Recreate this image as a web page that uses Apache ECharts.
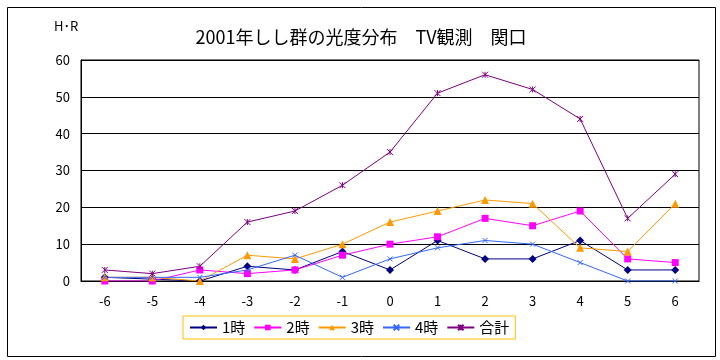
<!DOCTYPE html>
<html><head><meta charset="utf-8">
<script src="https://cdn.jsdelivr.net/npm/echarts@6/dist/echarts.min.js"></script>
<style>html,body{margin:0;padding:0;background:#fff}#c{width:720px;height:360px}</style>
</head><body><div id="c"></div>
<script>
const categories = ['-6','-5','-4','-3','-2','-1','0','1','2','3','4','5','6'];
const hour1 = [1, 0.5, 0, 4, 3, 8, 3, 11, 6, 6, 11, 3, 3];
const hour2 = [0, 0, 3, 2, 3, 7, 10, 12, 17, 15, 19, 6, 5];
const hour3 = [1, 1, 0, 7, 6, 10, 16, 19, 22, 21, 9, 8, 21];
const hour4 = [1, 1, 1, 3, 7, 1, 6, 9, 11, 10, 5, 0, 0];
const total = [3, 2, 4, 16, 19, 26, 35, 51, 56, 52, 44, 17, 29];
const seriesNames = ['1時','2時','3時','4時','合計'];
const yTicks = [0,10,20,30,40,50,60];

const FONT = '"Noto Sans CJK JP", "Noto Sans", sans-serif';
const xSym = 'path://M0,0L10,10M10,0L0,10';
const starSym = 'path://M0,0L10,10M10,0L0,10M5,0L5,10';

function mk(name, data, color, symbol, size, stroke) {
  return {
    name, type: 'line', data, color,
    symbol, symbolSize: size,
    lineStyle: { width: 1, color },
    itemStyle: stroke ? { color: 'none', borderColor: color, borderWidth: 1 } : { color, borderWidth: 0 },
    emphasis: { disabled: true },
    animation: false
  };
}

const chart = echarts.init(document.getElementById('c'), null, { renderer: 'canvas' });
chart.setOption({
  backgroundColor: '#fff',
  animation: false,
  textStyle: { fontFamily: FONT },
  title: {
    text: '2001年しし群の光度分布　TV観測　関口',
    left: 356, top: 23, textAlign: 'center',
    textStyle: { fontFamily: FONT, fontSize: 18, fontWeight: 'normal', color: '#000' }
  },
  graphic: [
    { type: 'rect', left: 5, top: 5, shape: { width: 708, height: 349 }, style: { fill: 'none', stroke: '#000', lineWidth: 1 }, silent: true },
    { type: 'text', left: 54, top: 20, style: { text: 'H･R', fontFamily: FONT, fontSize: 13, fill: '#000' } }
  ],
  legend: {
    data: seriesNames,
    left: 183, top: 316,
    padding: [4, 6, 4, 6],
    borderColor: '#FFC000', borderWidth: 1,
    itemWidth: 27, itemHeight: 7, itemGap: 8,
    textStyle: { fontFamily: FONT, fontSize: 15, color: '#000' }
  },
  grid: { left: 81, right: 21, top: 60, bottom: 79, show: true, borderColor: '#000', borderWidth: 1, backgroundColor: 'transparent' },
  xAxis: {
    type: 'category', data: categories, boundaryGap: true,
    axisLine: { lineStyle: { color: '#000', width: 1 } },
    axisTick: { inside: true, length: 4, lineStyle: { color: '#000' } },
    axisLabel: { color: '#000', fontSize: 13, margin: 14, fontFamily: FONT },
    splitLine: { show: false }
  },
  yAxis: {
    type: 'value', min: yTicks[0], max: yTicks[yTicks.length-1], interval: 10,
    axisLine: { show: true, lineStyle: { color: '#000', width: 1 } },
    axisTick: { show: false },
    axisLabel: { color: '#000', fontSize: 13, margin: 11, fontFamily: FONT },
    splitLine: { show: true, lineStyle: { color: '#000', width: 1 } }
  },
  series: [
    mk(seriesNames[0], hour1, '#000080', 'diamond', 8, false),
    mk(seriesNames[1], hour2, '#FF00FF', 'rect', 7, false),
    mk(seriesNames[2], hour3, '#FF9900', 'triangle', 8, false),
    mk(seriesNames[3], hour4, '#3366FF', xSym, 5, true),
    mk(seriesNames[4], total, '#800080', starSym, 6, true)
  ]
});
</script></body></html>
